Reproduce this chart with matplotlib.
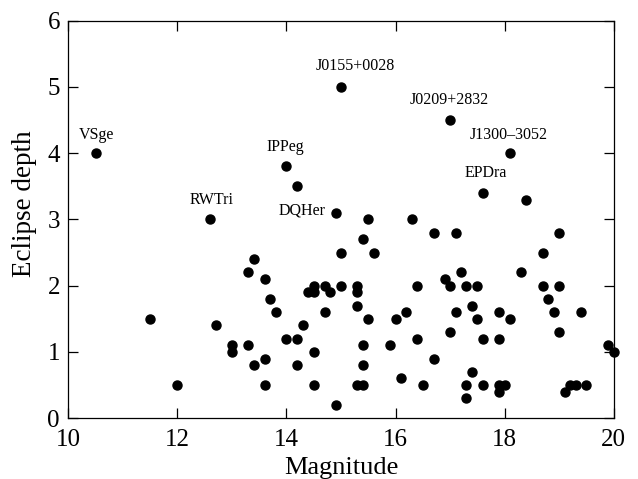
import matplotlib
matplotlib.use('Agg')
import matplotlib.pyplot as plt

plt.rcParams['font.family'] = ['Liberation Serif', 'DejaVu Serif']

# Magnitude and eclipse depth of the systems
magnitude = [10.5, 11.5, 12.0, 12.6, 12.7, 13.0, 13.0, 13.3, 13.3, 13.4,
             13.4, 13.6, 13.6, 13.6, 13.7, 13.8, 14.0, 14.0, 14.2, 14.2,
             14.2, 14.3, 14.4, 14.5, 14.5, 14.5, 14.5, 14.7, 14.7, 14.8,
             14.9, 14.9, 15.0, 15.0, 15.0, 15.3, 15.3, 15.3, 15.3, 15.4,
             15.4, 15.4, 15.4, 15.5, 15.5, 15.6, 15.9, 16.0, 16.1, 16.2,
             16.3, 16.4, 16.4, 16.5, 16.7, 16.7, 16.9, 17.0, 17.0, 17.0,
             17.1, 17.1, 17.2, 17.3, 17.3, 17.3, 17.4, 17.4, 17.5, 17.5,
             17.6, 17.6, 17.6, 17.9, 17.9, 17.9, 17.9, 18.0, 18.1, 18.1,
             18.3, 18.4, 18.7, 18.7, 18.8, 18.9, 19.0, 19.0, 19.0, 19.1,
             19.2, 19.3, 19.4, 19.5, 19.9, 20.0]
depth = [4.0, 1.5, 0.5, 3.0, 1.4, 1.1, 1.0, 1.1, 2.2, 2.4,
         0.8, 2.1, 0.9, 0.5, 1.8, 1.6, 1.2, 3.8, 3.5, 1.2,
         0.8, 1.4, 1.9, 2.0, 1.9, 1.0, 0.5, 2.0, 1.6, 1.9,
         3.1, 0.2, 5.0, 2.5, 2.0, 2.0, 1.9, 1.7, 0.5, 2.7,
         1.1, 0.8, 0.5, 3.0, 1.5, 2.5, 1.1, 1.5, 0.6, 1.6,
         3.0, 1.2, 2.0, 0.5, 2.8, 0.9, 2.1, 4.5, 2.0, 1.3,
         2.8, 1.6, 2.2, 2.0, 0.5, 0.3, 1.7, 0.7, 2.0, 1.5,
         3.4, 1.2, 0.5, 1.2, 1.6, 0.5, 0.4, 0.5, 4.0, 1.5,
         2.2, 3.3, 2.5, 2.0, 1.8, 1.6, 2.8, 2.0, 1.3, 0.4,
         0.5, 0.5, 1.6, 0.5, 1.1, 1.0]

# Named systems
names = ['VSge', 'RWTri', 'IPPeg', 'DQHer', 'J0155+0028',
         'J0209+2832', 'J1300\u20133052', 'EPDra']
name_mag = [10.5, 12.6, 14.0, 14.9, 15.0, 17.0, 18.1, 17.6]
name_depth = [4.0, 3.0, 3.8, 3.1, 5.0, 4.5, 4.0, 3.4]
name_offset = [(1, 10), (1, 11), (-1, 11), (-7, -1), (10.5, 12),
               (-1, 11.5), (-1, 10.5), (2, 11.5)]
name_ha = ['center', 'center', 'center', 'right', 'center',
           'center', 'center', 'center']

fig = plt.figure(figsize=(6.38, 4.79), dpi=100)
ax = fig.add_axes([0.107, 0.127, 0.855, 0.83])

ax.plot(magnitude, depth, 'o', color='black', markersize=6.5, clip_on=False)

for n, x, y, off, ha in zip(names, name_mag, name_depth, name_offset, name_ha):
    ax.annotate(n, (x, y), xytext=off, textcoords='offset points',
                ha=ha, va='baseline', fontsize=11.5)

ax.set_xlim(10, 20)
ax.set_ylim(0, 6)
ax.set_xticks([10, 12, 14, 16, 18, 20])
ax.set_yticks([0, 1, 2, 3, 4, 5, 6])
ax.tick_params(direction='in', top=True, right=True, length=7, width=0.9,
               labelsize=18)
ax.tick_params(axis='x', pad=8)
ax.tick_params(axis='y', pad=6)
for s in ax.spines.values():
    s.set_linewidth(0.9)

ax.set_xlabel('Magnitude', fontsize=19, labelpad=4)
ax.set_ylabel('Eclipse depth', fontsize=19.5)
ax.yaxis.set_label_coords(-0.058, 0.54)

fig.savefig('out.png', dpi=100)
